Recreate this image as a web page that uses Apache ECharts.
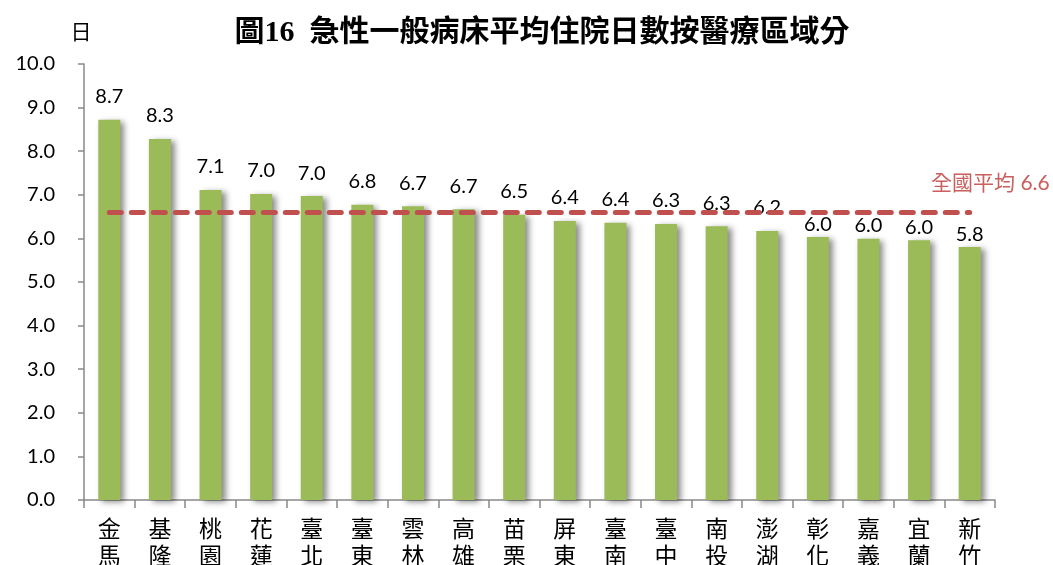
<!DOCTYPE html>
<html>
<head>
<meta charset="utf-8">
<script src="https://cdn.jsdelivr.net/npm/echarts@6/dist/echarts.min.js"></script>
<style>
  html, body { margin: 0; padding: 0; background: #fff; }
  #main { width: 1053px; height: 565px; }
</style>
</head>
<body>
<div id="main"></div>
<script>
// 醫療區域
var regions = ['金馬', '基隆', '桃園', '花蓮', '臺北', '臺東', '雲林', '高雄', '苗栗',
               '屏東', '臺南', '臺中', '南投', '澎湖', '彰化', '嘉義', '宜蘭', '新竹'];
// 平均住院日數
var days = [8.72, 8.28, 7.11, 7.02, 6.97, 6.77, 6.74, 6.67, 6.54,
            6.40, 6.36, 6.33, 6.28, 6.17, 6.03, 5.99, 5.96, 5.80];
// 全國平均
var nationalAvg = 6.6;
var yTicks = [0, 10, 1];

// 後四個標籤在原圖中被移到平均線下方，離柱頂較近
function labelDistance(i) {
    return i >= regions.length - 4 ? 3 : 13;
}

var chart = echarts.init(document.getElementById('main'));

chart.setOption({
    animation: false,
    backgroundColor: '#fff',
    title: {
        text: '圖16  急性一般病床平均住院日數按醫療區域分',
        left: 537,
        textAlign: 'center',
        top: 13,
        textStyle: {
            fontFamily: "'Liberation Serif', 'Noto Sans CJK TC'",
            fontWeight: 'bold',
            fontSize: 30,
            color: '#000'
        }
    },
    grid: { left: 84, right: 58, top: 64, bottom: 65, outerBoundsMode: 'none', containLabel: false },
    xAxis: {
        type: 'category',
        data: regions,
        axisLine: { lineStyle: { color: '#898989', width: 1.5 } },
        axisTick: { show: true, length: 8, lineStyle: { color: '#898989', width: 1.5 } },
        axisLabel: {
            interval: 0,
            margin: 15,
            fontFamily: "'Noto Sans CJK TC'",
            fontSize: 23,
            lineHeight: 27,
            color: '#000',
            formatter: function (v) { return v.split('').join('\n'); }
        }
    },
    yAxis: {
        type: 'value',
        min: yTicks[0],
        max: yTicks[1],
        interval: yTicks[2],
        name: '日',
        nameLocation: 'end',
        nameGap: 22,
        nameTextStyle: {
            fontFamily: "'Noto Sans CJK TC'",
            fontSize: 21,
            color: '#000',
            align: 'center',
            padding: [0, 6, 0, 0]
        },
        splitLine: { show: false },
        axisLine: { show: true, lineStyle: { color: '#898989', width: 1.5 } },
        axisTick: { show: true, length: 6, lineStyle: { color: '#898989', width: 1.5 } },
        axisLabel: {
            margin: 29,
            fontFamily: 'Lato',
            fontSize: 20,
            color: '#000',
            formatter: function (v) { return v.toFixed(1); }
        }
    },
    series: [{
        type: 'bar',
        data: days.map(function (v, i) {
            return { value: v, label: { distance: labelDistance(i) } };
        }),
        barWidth: 22,
        itemStyle: {
            color: '#9BBB59',
            shadowColor: 'rgba(0,0,0,0.45)',
            shadowBlur: 6,
            shadowOffsetX: 4,
            shadowOffsetY: 2
        },
        label: {
            show: true,
            position: 'top',
            fontFamily: 'Lato',
            fontSize: 20,
            color: '#000',
            formatter: function (p) { return p.value.toFixed(1); }
        },
        markLine: {
            silent: true,
            symbol: 'none',
            lineStyle: { color: '#C0504D', type: [12, 10], width: 5, cap: 'round' },
            label: {
                show: true,
                position: 'insideEndTop',
                offset: [85, -14],
                formatter: '全國平均 ' + nationalAvg.toFixed(1),
                fontFamily: "'Lato', 'Noto Sans CJK TC'",
                fontSize: 21,
                color: '#C9605D'
            },
            data: [[
                { xAxis: 0, yAxis: nationalAvg },
                { xAxis: regions.length - 1, yAxis: nationalAvg }
            ]]
        }
    }]
});
</script>
</body>
</html>
